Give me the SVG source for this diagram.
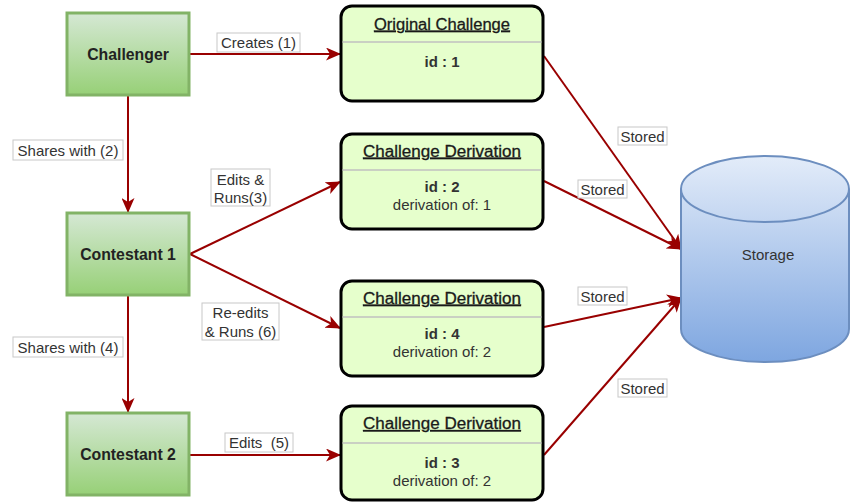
<svg xmlns="http://www.w3.org/2000/svg" width="850" height="502" viewBox="0 0 850 502">
  <defs>
    <linearGradient id="gGreen" x1="0" y1="0" x2="0" y2="1">
      <stop offset="0" stop-color="#d5e8d4"/>
      <stop offset="1" stop-color="#97d077"/>
    </linearGradient>
    <linearGradient id="gBlue" x1="0" y1="0" x2="0" y2="1">
      <stop offset="0" stop-color="#e3ecf9"/>
      <stop offset="1" stop-color="#7ea6e0"/>
    </linearGradient>
    <marker id="arrow" markerUnits="userSpaceOnUse" markerWidth="15" markerHeight="13" refX="14" refY="6.5" orient="auto">
      <path d="M0,0 L15,6.5 L0,13 L4,6.5 Z" fill="#990000"/>
    </marker>
    <style>
      .actor rect { fill: url(#gGreen); stroke: #82b366; stroke-width: 3; }
      .actor text { font: bold 15.8px "Liberation Sans", Arial, sans-serif; fill: #222; text-anchor: middle; }
      .obj rect { fill: #e6ffcc; stroke: #000; stroke-width: 3; }
      .obj line { stroke: #c0c0c0; stroke-width: 1.5; }
      .obj text { font: 15px "Liberation Sans", Arial, sans-serif; fill: #333; text-anchor: middle; }
      .obj .title { text-decoration: underline; font-size: 16px; fill: #1a1a1a; stroke: #1a1a1a; stroke-width: 0.3; }
      .obj .id { font-weight: bold; }
      .edge { stroke: #990000; stroke-width: 2; fill: none; marker-end: url(#arrow); }
      .lbl rect { fill: #fff; stroke: #c8c8c8; stroke-width: 1; }
      .lbl text { font: 15px "Liberation Sans", Arial, sans-serif; fill: #333; text-anchor: middle; }
      .db { fill: url(#gBlue); stroke: #6c8ebf; stroke-width: 2; }
    </style>
  </defs>

  <!-- connectors -->
  <g id="connectors">
    <line class="edge" x1="190" y1="54" x2="340" y2="54"/>
    <line class="edge" x1="128" y1="96" x2="128" y2="212"/>
    <line class="edge" x1="128" y1="296" x2="128" y2="412"/>
    <line class="edge" x1="190" y1="455" x2="340" y2="455"/>
    <line class="edge" x1="190" y1="254" x2="340" y2="182"/>
    <line class="edge" x1="190" y1="254" x2="340" y2="328"/>
    <line class="edge" x1="544" y1="56" x2="681" y2="249"/>
    <line class="edge" x1="544" y1="181" x2="681" y2="249"/>
    <line class="edge" x1="544" y1="327" x2="681" y2="298"/>
    <line class="edge" x1="544" y1="455" x2="681" y2="298"/>

    <g class="lbl">
      <rect x="217" y="33" width="83" height="19"/>
      <text x="258.5" y="48">Creates (1)</text>
      <rect x="13" y="140" width="110" height="20"/>
      <text x="68" y="155.5">Shares with (2)</text>
      <rect x="13" y="337" width="110" height="20"/>
      <text x="68" y="352.5">Shares with (4)</text>
      <rect x="225" y="433" width="68" height="19"/>
      <text x="259" y="448" xml:space="preserve">Edits  (5)</text>
      <rect x="211" y="169" width="59" height="37"/>
      <text x="240.5" y="184.5">Edits &amp;</text>
      <text x="240.5" y="203">Runs(3)</text>
      <rect x="202" y="303" width="77" height="37"/>
      <text x="240.5" y="318">Re-edits</text>
      <text x="240.5" y="336.5">&amp; Runs (6)</text>
      <rect x="618" y="127" width="49" height="18"/>
      <text x="642.5" y="141.5">Stored</text>
      <rect x="578" y="180" width="49" height="18"/>
      <text x="602.5" y="194.5">Stored</text>
      <rect x="578" y="287" width="49" height="18"/>
      <text x="602.5" y="301.5">Stored</text>
      <rect x="618" y="379" width="49" height="18"/>
      <text x="642.5" y="393.5">Stored</text>
    </g>
  </g>

  <!-- actors -->
  <g id="challenger" class="actor">
    <rect x="67" y="13" width="122" height="82"/>
    <text x="128" y="59.5">Challenger</text>
  </g>
  <g id="contestant1" class="actor">
    <rect x="67" y="213" width="122" height="82"/>
    <text x="128" y="259.5">Contestant 1</text>
  </g>
  <g id="contestant2" class="actor">
    <rect x="67" y="413" width="122" height="82"/>
    <text x="128" y="459.5">Contestant 2</text>
  </g>

  <!-- challenge objects -->
  <g id="original" class="obj">
    <rect x="341" y="6" width="202" height="95" rx="11"/>
    <line x1="342.5" y1="42" x2="541.5" y2="42"/>
    <text class="title" x="442" y="29.5" textLength="136" lengthAdjust="spacingAndGlyphs">Original Challenge</text>
    <text class="id" x="442" y="67">id : 1</text>
  </g>
  <g id="derivation2" class="obj">
    <rect x="341" y="134" width="202" height="95" rx="11"/>
    <line x1="342.5" y1="170" x2="541.5" y2="170"/>
    <text class="title" x="442" y="156.5" textLength="158" lengthAdjust="spacingAndGlyphs">Challenge Derivation</text>
    <text class="id" x="442" y="192">id : 2</text>
    <text x="442" y="210">derivation of: 1</text>
  </g>
  <g id="derivation4" class="obj">
    <rect x="341" y="281" width="202" height="95" rx="11"/>
    <line x1="342.5" y1="317" x2="541.5" y2="317"/>
    <text class="title" x="442" y="303.5" textLength="158" lengthAdjust="spacingAndGlyphs">Challenge Derivation</text>
    <text class="id" x="442" y="339">id : 4</text>
    <text x="442" y="357">derivation of: 2</text>
  </g>
  <g id="derivation3" class="obj">
    <rect x="341" y="406" width="202" height="94" rx="11"/>
    <line x1="342.5" y1="443" x2="541.5" y2="443"/>
    <text class="title" x="442" y="429" textLength="158" lengthAdjust="spacingAndGlyphs">Challenge Derivation</text>
    <text class="id" x="442" y="468">id : 3</text>
    <text x="442" y="486">derivation of: 2</text>
  </g>

  <!-- storage cylinder -->
  <g id="storage">
    <path class="db" d="M681,189 A84,33 0 0 1 849,189 L849,329 A84,33 0 0 1 681,329 Z"/>
    <path d="M681,189 A84,33 0 0 0 849,189" fill="none" stroke="#6c8ebf" stroke-width="2"/>
    <text x="768" y="260" font-family="'Liberation Sans', Arial, sans-serif" font-size="15" fill="#333" text-anchor="middle">Storage</text>
  </g>
</svg>
